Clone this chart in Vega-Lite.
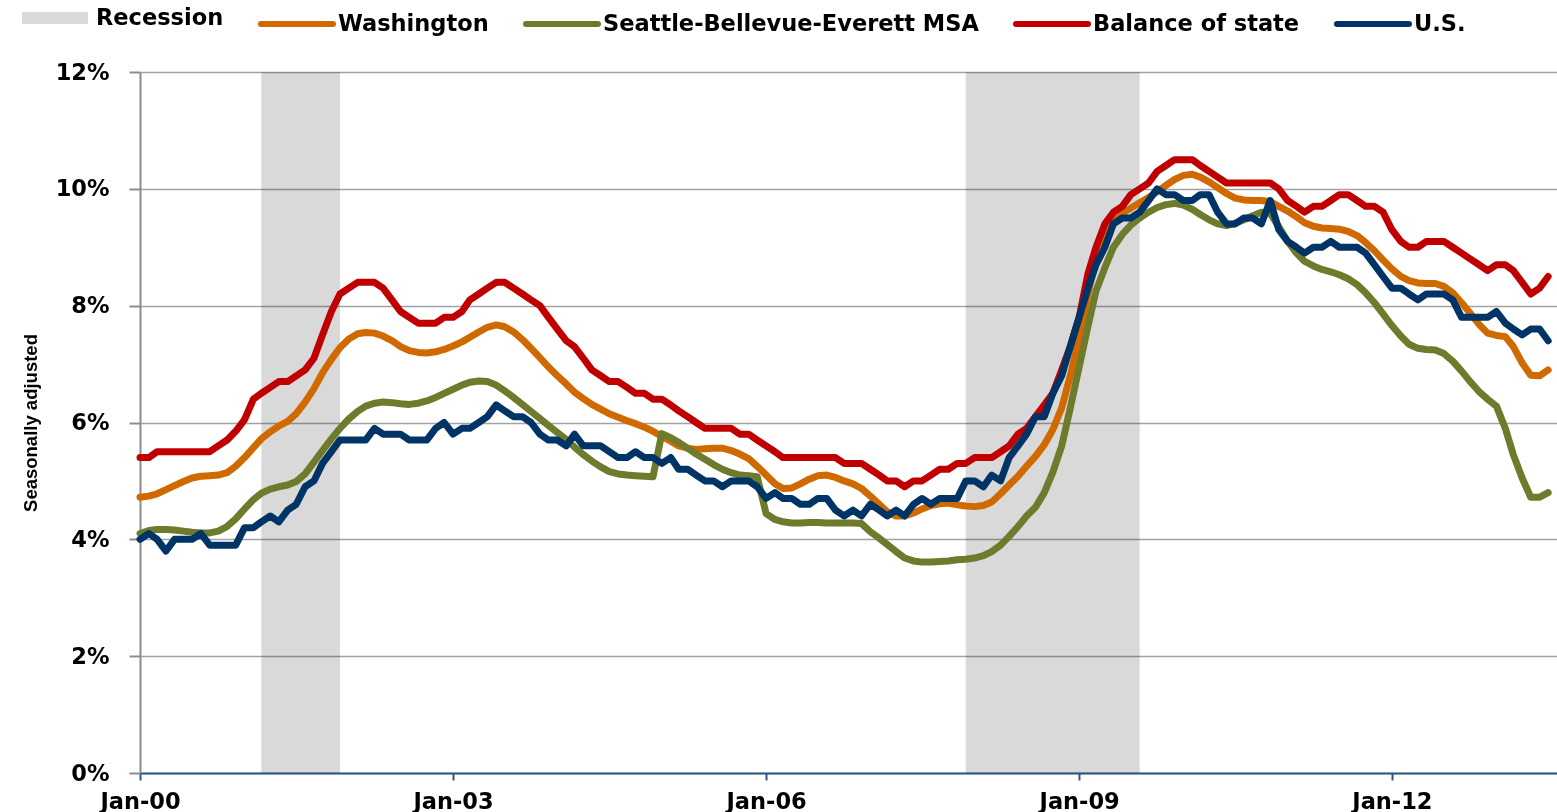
{
  "$schema": "https://vega.github.io/schema/vega-lite/v6.json",
  "width": 1417,
  "height": 701,
  "autosize": {"type": "none"},
  "padding": {"left": 140, "top": 72, "right": 0, "bottom": 39},
  "background": "white",
  "config": {"view": {"stroke": null}},
  "datasets": {
    "rec": [
      {"start": "2001-03-01", "end": "2001-12-01"},
      {"start": "2007-12-01", "end": "2009-08-01"}
    ],
    "us": [
      {"d":"2000-01","v":4.0},{"d":"2000-02","v":4.1},{"d":"2000-03","v":4.0},{"d":"2000-04","v":3.8},{"d":"2000-05","v":4.0},{"d":"2000-06","v":4.0},{"d":"2000-07","v":4.0},{"d":"2000-08","v":4.1},{"d":"2000-09","v":3.9},{"d":"2000-10","v":3.9},{"d":"2000-11","v":3.9},{"d":"2000-12","v":3.9},
      {"d":"2001-01","v":4.2},{"d":"2001-02","v":4.2},{"d":"2001-03","v":4.3},{"d":"2001-04","v":4.4},{"d":"2001-05","v":4.3},{"d":"2001-06","v":4.5},{"d":"2001-07","v":4.6},{"d":"2001-08","v":4.9},{"d":"2001-09","v":5.0},{"d":"2001-10","v":5.3},{"d":"2001-11","v":5.5},{"d":"2001-12","v":5.7},
      {"d":"2002-01","v":5.7},{"d":"2002-02","v":5.7},{"d":"2002-03","v":5.7},{"d":"2002-04","v":5.9},{"d":"2002-05","v":5.8},{"d":"2002-06","v":5.8},{"d":"2002-07","v":5.8},{"d":"2002-08","v":5.7},{"d":"2002-09","v":5.7},{"d":"2002-10","v":5.7},{"d":"2002-11","v":5.9},{"d":"2002-12","v":6.0},
      {"d":"2003-01","v":5.8},{"d":"2003-02","v":5.9},{"d":"2003-03","v":5.9},{"d":"2003-04","v":6.0},{"d":"2003-05","v":6.1},{"d":"2003-06","v":6.3},{"d":"2003-07","v":6.2},{"d":"2003-08","v":6.1},{"d":"2003-09","v":6.1},{"d":"2003-10","v":6.0},{"d":"2003-11","v":5.8},{"d":"2003-12","v":5.7},
      {"d":"2004-01","v":5.7},{"d":"2004-02","v":5.6},{"d":"2004-03","v":5.8},{"d":"2004-04","v":5.6},{"d":"2004-05","v":5.6},{"d":"2004-06","v":5.6},{"d":"2004-07","v":5.5},{"d":"2004-08","v":5.4},{"d":"2004-09","v":5.4},{"d":"2004-10","v":5.5},{"d":"2004-11","v":5.4},{"d":"2004-12","v":5.4},
      {"d":"2005-01","v":5.3},{"d":"2005-02","v":5.4},{"d":"2005-03","v":5.2},{"d":"2005-04","v":5.2},{"d":"2005-05","v":5.1},{"d":"2005-06","v":5.0},{"d":"2005-07","v":5.0},{"d":"2005-08","v":4.9},{"d":"2005-09","v":5.0},{"d":"2005-10","v":5.0},{"d":"2005-11","v":5.0},{"d":"2005-12","v":4.9},
      {"d":"2006-01","v":4.7},{"d":"2006-02","v":4.8},{"d":"2006-03","v":4.7},{"d":"2006-04","v":4.7},{"d":"2006-05","v":4.6},{"d":"2006-06","v":4.6},{"d":"2006-07","v":4.7},{"d":"2006-08","v":4.7},{"d":"2006-09","v":4.5},{"d":"2006-10","v":4.4},{"d":"2006-11","v":4.5},{"d":"2006-12","v":4.4},
      {"d":"2007-01","v":4.6},{"d":"2007-02","v":4.5},{"d":"2007-03","v":4.4},{"d":"2007-04","v":4.5},{"d":"2007-05","v":4.4},{"d":"2007-06","v":4.6},{"d":"2007-07","v":4.7},{"d":"2007-08","v":4.6},{"d":"2007-09","v":4.7},{"d":"2007-10","v":4.7},{"d":"2007-11","v":4.7},{"d":"2007-12","v":5.0},
      {"d":"2008-01","v":5.0},{"d":"2008-02","v":4.9},{"d":"2008-03","v":5.1},{"d":"2008-04","v":5.0},{"d":"2008-05","v":5.4},{"d":"2008-06","v":5.6},{"d":"2008-07","v":5.8},{"d":"2008-08","v":6.1},{"d":"2008-09","v":6.1},{"d":"2008-10","v":6.5},{"d":"2008-11","v":6.8},{"d":"2008-12","v":7.3},
      {"d":"2009-01","v":7.8},{"d":"2009-02","v":8.3},{"d":"2009-03","v":8.7},{"d":"2009-04","v":9.0},{"d":"2009-05","v":9.4},{"d":"2009-06","v":9.5},{"d":"2009-07","v":9.5},{"d":"2009-08","v":9.6},{"d":"2009-09","v":9.8},{"d":"2009-10","v":10.0},{"d":"2009-11","v":9.9},{"d":"2009-12","v":9.9},
      {"d":"2010-01","v":9.8},{"d":"2010-02","v":9.8},{"d":"2010-03","v":9.9},{"d":"2010-04","v":9.9},{"d":"2010-05","v":9.6},{"d":"2010-06","v":9.4},{"d":"2010-07","v":9.4},{"d":"2010-08","v":9.5},{"d":"2010-09","v":9.5},{"d":"2010-10","v":9.4},{"d":"2010-11","v":9.8},{"d":"2010-12","v":9.3},
      {"d":"2011-01","v":9.1},{"d":"2011-02","v":9.0},{"d":"2011-03","v":8.9},{"d":"2011-04","v":9.0},{"d":"2011-05","v":9.0},{"d":"2011-06","v":9.1},{"d":"2011-07","v":9.0},{"d":"2011-08","v":9.0},{"d":"2011-09","v":9.0},{"d":"2011-10","v":8.9},{"d":"2011-11","v":8.7},{"d":"2011-12","v":8.5},
      {"d":"2012-01","v":8.3},{"d":"2012-02","v":8.3},{"d":"2012-03","v":8.2},{"d":"2012-04","v":8.1},{"d":"2012-05","v":8.2},{"d":"2012-06","v":8.2},{"d":"2012-07","v":8.2},{"d":"2012-08","v":8.1},{"d":"2012-09","v":7.8},{"d":"2012-10","v":7.8},{"d":"2012-11","v":7.8},{"d":"2012-12","v":7.8},
      {"d":"2013-01","v":7.9},{"d":"2013-02","v":7.7},{"d":"2013-03","v":7.6},{"d":"2013-04","v":7.5},{"d":"2013-05","v":7.6},{"d":"2013-06","v":7.6},{"d":"2013-07","v":7.4}
    ],
    "wa": [
      {"d":"2000-01","v":4.72},{"d":"2000-02","v":4.74},{"d":"2000-03","v":4.78},{"d":"2000-04","v":4.85},{"d":"2000-05","v":4.92},{"d":"2000-06","v":4.99},{"d":"2000-07","v":5.05},{"d":"2000-08","v":5.08},{"d":"2000-09","v":5.09},{"d":"2000-10","v":5.10},{"d":"2000-11","v":5.14},{"d":"2000-12","v":5.25},
      {"d":"2001-01","v":5.40},{"d":"2001-02","v":5.57},{"d":"2001-03","v":5.72},{"d":"2001-04","v":5.84},{"d":"2001-05","v":5.94},{"d":"2001-06","v":6.02},{"d":"2001-07","v":6.15},{"d":"2001-08","v":6.35},{"d":"2001-09","v":6.58},{"d":"2001-10","v":6.85},{"d":"2001-11","v":7.08},{"d":"2001-12","v":7.28},
      {"d":"2002-01","v":7.43},{"d":"2002-02","v":7.52},{"d":"2002-03","v":7.54},{"d":"2002-04","v":7.53},{"d":"2002-05","v":7.48},{"d":"2002-06","v":7.40},{"d":"2002-07","v":7.30},{"d":"2002-08","v":7.23},{"d":"2002-09","v":7.20},{"d":"2002-10","v":7.19},{"d":"2002-11","v":7.21},{"d":"2002-12","v":7.25},
      {"d":"2003-01","v":7.31},{"d":"2003-02","v":7.38},{"d":"2003-03","v":7.46},{"d":"2003-04","v":7.55},{"d":"2003-05","v":7.63},{"d":"2003-06","v":7.67},{"d":"2003-07","v":7.64},{"d":"2003-08","v":7.55},{"d":"2003-09","v":7.42},{"d":"2003-10","v":7.27},{"d":"2003-11","v":7.11},{"d":"2003-12","v":6.95},
      {"d":"2004-01","v":6.80},{"d":"2004-02","v":6.66},{"d":"2004-03","v":6.52},{"d":"2004-04","v":6.41},{"d":"2004-05","v":6.31},{"d":"2004-06","v":6.23},{"d":"2004-07","v":6.15},{"d":"2004-08","v":6.09},{"d":"2004-09","v":6.03},{"d":"2004-10","v":5.98},{"d":"2004-11","v":5.92},{"d":"2004-12","v":5.85},
      {"d":"2005-01","v":5.76},{"d":"2005-02","v":5.68},{"d":"2005-03","v":5.60},{"d":"2005-04","v":5.56},{"d":"2005-05","v":5.54},{"d":"2005-06","v":5.55},{"d":"2005-07","v":5.56},{"d":"2005-08","v":5.56},{"d":"2005-09","v":5.52},{"d":"2005-10","v":5.46},{"d":"2005-11","v":5.38},{"d":"2005-12","v":5.25},
      {"d":"2006-01","v":5.10},{"d":"2006-02","v":4.95},{"d":"2006-03","v":4.87},{"d":"2006-04","v":4.88},{"d":"2006-05","v":4.95},{"d":"2006-06","v":5.03},{"d":"2006-07","v":5.09},{"d":"2006-08","v":5.10},{"d":"2006-09","v":5.06},{"d":"2006-10","v":5.00},{"d":"2006-11","v":4.95},{"d":"2006-12","v":4.87},
      {"d":"2007-01","v":4.74},{"d":"2007-02","v":4.60},{"d":"2007-03","v":4.47},{"d":"2007-04","v":4.40},{"d":"2007-05","v":4.40},{"d":"2007-06","v":4.45},{"d":"2007-07","v":4.52},{"d":"2007-08","v":4.58},{"d":"2007-09","v":4.61},{"d":"2007-10","v":4.62},{"d":"2007-11","v":4.59},{"d":"2007-12","v":4.57},
      {"d":"2008-01","v":4.56},{"d":"2008-02","v":4.58},{"d":"2008-03","v":4.64},{"d":"2008-04","v":4.78},{"d":"2008-05","v":4.93},{"d":"2008-06","v":5.08},{"d":"2008-07","v":5.25},{"d":"2008-08","v":5.42},{"d":"2008-09","v":5.62},{"d":"2008-10","v":5.88},{"d":"2008-11","v":6.25},{"d":"2008-12","v":6.80},
      {"d":"2009-01","v":7.45},{"d":"2009-02","v":8.20},{"d":"2009-03","v":8.80},{"d":"2009-04","v":9.22},{"d":"2009-05","v":9.45},{"d":"2009-06","v":9.58},{"d":"2009-07","v":9.67},{"d":"2009-08","v":9.76},{"d":"2009-09","v":9.85},{"d":"2009-10","v":9.95},{"d":"2009-11","v":10.06},{"d":"2009-12","v":10.16},
      {"d":"2010-01","v":10.23},{"d":"2010-02","v":10.25},{"d":"2010-03","v":10.20},{"d":"2010-04","v":10.12},{"d":"2010-05","v":10.02},{"d":"2010-06","v":9.92},{"d":"2010-07","v":9.84},{"d":"2010-08","v":9.81},{"d":"2010-09","v":9.80},{"d":"2010-10","v":9.80},{"d":"2010-11","v":9.78},{"d":"2010-12","v":9.70},
      {"d":"2011-01","v":9.62},{"d":"2011-02","v":9.52},{"d":"2011-03","v":9.42},{"d":"2011-04","v":9.36},{"d":"2011-05","v":9.33},{"d":"2011-06","v":9.32},{"d":"2011-07","v":9.31},{"d":"2011-08","v":9.27},{"d":"2011-09","v":9.20},{"d":"2011-10","v":9.08},{"d":"2011-11","v":8.94},{"d":"2011-12","v":8.78},
      {"d":"2012-01","v":8.63},{"d":"2012-02","v":8.50},{"d":"2012-03","v":8.43},{"d":"2012-04","v":8.39},{"d":"2012-05","v":8.38},{"d":"2012-06","v":8.38},{"d":"2012-07","v":8.33},{"d":"2012-08","v":8.22},{"d":"2012-09","v":8.05},{"d":"2012-10","v":7.87},{"d":"2012-11","v":7.68},{"d":"2012-12","v":7.53},
      {"d":"2013-01","v":7.49},{"d":"2013-02","v":7.47},{"d":"2013-03","v":7.30},{"d":"2013-04","v":7.02},{"d":"2013-05","v":6.81},{"d":"2013-06","v":6.80},{"d":"2013-07","v":6.90}
    ],
    "sea": [
      {"d":"2000-01","v":4.10},{"d":"2000-02","v":4.15},{"d":"2000-03","v":4.17},{"d":"2000-04","v":4.17},{"d":"2000-05","v":4.16},{"d":"2000-06","v":4.14},{"d":"2000-07","v":4.12},{"d":"2000-08","v":4.11},{"d":"2000-09","v":4.11},{"d":"2000-10","v":4.14},{"d":"2000-11","v":4.22},{"d":"2000-12","v":4.35},
      {"d":"2001-01","v":4.52},{"d":"2001-02","v":4.68},{"d":"2001-03","v":4.79},{"d":"2001-04","v":4.86},{"d":"2001-05","v":4.90},{"d":"2001-06","v":4.93},{"d":"2001-07","v":4.99},{"d":"2001-08","v":5.12},{"d":"2001-09","v":5.32},{"d":"2001-10","v":5.52},{"d":"2001-11","v":5.72},{"d":"2001-12","v":5.90},
      {"d":"2002-01","v":6.06},{"d":"2002-02","v":6.19},{"d":"2002-03","v":6.28},{"d":"2002-04","v":6.33},{"d":"2002-05","v":6.35},{"d":"2002-06","v":6.34},{"d":"2002-07","v":6.32},{"d":"2002-08","v":6.31},{"d":"2002-09","v":6.33},{"d":"2002-10","v":6.37},{"d":"2002-11","v":6.43},{"d":"2002-12","v":6.50},
      {"d":"2003-01","v":6.57},{"d":"2003-02","v":6.64},{"d":"2003-03","v":6.69},{"d":"2003-04","v":6.71},{"d":"2003-05","v":6.70},{"d":"2003-06","v":6.64},{"d":"2003-07","v":6.54},{"d":"2003-08","v":6.43},{"d":"2003-09","v":6.31},{"d":"2003-10","v":6.19},{"d":"2003-11","v":6.07},{"d":"2003-12","v":5.95},
      {"d":"2004-01","v":5.83},{"d":"2004-02","v":5.71},{"d":"2004-03","v":5.58},{"d":"2004-04","v":5.45},{"d":"2004-05","v":5.34},{"d":"2004-06","v":5.24},{"d":"2004-07","v":5.16},{"d":"2004-08","v":5.12},{"d":"2004-09","v":5.10},{"d":"2004-10","v":5.09},{"d":"2004-11","v":5.08},{"d":"2004-12","v":5.07},
      {"d":"2005-01","v":5.81},{"d":"2005-02","v":5.74},{"d":"2005-03","v":5.66},{"d":"2005-04","v":5.56},{"d":"2005-05","v":5.46},{"d":"2005-06","v":5.37},{"d":"2005-07","v":5.28},{"d":"2005-08","v":5.20},{"d":"2005-09","v":5.14},{"d":"2005-10","v":5.10},{"d":"2005-11","v":5.09},{"d":"2005-12","v":5.07},
      {"d":"2006-01","v":4.44},{"d":"2006-02","v":4.34},{"d":"2006-03","v":4.30},{"d":"2006-04","v":4.28},{"d":"2006-05","v":4.28},{"d":"2006-06","v":4.29},{"d":"2006-07","v":4.29},{"d":"2006-08","v":4.28},{"d":"2006-09","v":4.28},{"d":"2006-10","v":4.28},{"d":"2006-11","v":4.28},{"d":"2006-12","v":4.27},
      {"d":"2007-01","v":4.13},{"d":"2007-02","v":4.02},{"d":"2007-03","v":3.91},{"d":"2007-04","v":3.79},{"d":"2007-05","v":3.68},{"d":"2007-06","v":3.63},{"d":"2007-07","v":3.61},{"d":"2007-08","v":3.61},{"d":"2007-09","v":3.62},{"d":"2007-10","v":3.63},{"d":"2007-11","v":3.65},{"d":"2007-12","v":3.66},
      {"d":"2008-01","v":3.68},{"d":"2008-02","v":3.72},{"d":"2008-03","v":3.79},{"d":"2008-04","v":3.90},{"d":"2008-05","v":4.05},{"d":"2008-06","v":4.22},{"d":"2008-07","v":4.40},{"d":"2008-08","v":4.55},{"d":"2008-09","v":4.80},{"d":"2008-10","v":5.15},{"d":"2008-11","v":5.60},{"d":"2008-12","v":6.25},
      {"d":"2009-01","v":6.95},{"d":"2009-02","v":7.65},{"d":"2009-03","v":8.25},{"d":"2009-04","v":8.65},{"d":"2009-05","v":9.00},{"d":"2009-06","v":9.22},{"d":"2009-07","v":9.38},{"d":"2009-08","v":9.50},{"d":"2009-09","v":9.60},{"d":"2009-10","v":9.68},{"d":"2009-11","v":9.73},{"d":"2009-12","v":9.75},
      {"d":"2010-01","v":9.72},{"d":"2010-02","v":9.65},{"d":"2010-03","v":9.56},{"d":"2010-04","v":9.47},{"d":"2010-05","v":9.40},{"d":"2010-06","v":9.37},{"d":"2010-07","v":9.41},{"d":"2010-08","v":9.47},{"d":"2010-09","v":9.54},{"d":"2010-10","v":9.60},{"d":"2010-11","v":9.58},{"d":"2010-12","v":9.35},
      {"d":"2011-01","v":9.10},{"d":"2011-02","v":8.90},{"d":"2011-03","v":8.76},{"d":"2011-04","v":8.68},{"d":"2011-05","v":8.62},{"d":"2011-06","v":8.58},{"d":"2011-07","v":8.53},{"d":"2011-08","v":8.46},{"d":"2011-09","v":8.36},{"d":"2011-10","v":8.22},{"d":"2011-11","v":8.05},{"d":"2011-12","v":7.86},
      {"d":"2012-01","v":7.66},{"d":"2012-02","v":7.48},{"d":"2012-03","v":7.34},{"d":"2012-04","v":7.27},{"d":"2012-05","v":7.25},{"d":"2012-06","v":7.24},{"d":"2012-07","v":7.18},{"d":"2012-08","v":7.05},{"d":"2012-09","v":6.88},{"d":"2012-10","v":6.70},{"d":"2012-11","v":6.53},{"d":"2012-12","v":6.40},
      {"d":"2013-01","v":6.28},{"d":"2013-02","v":5.90},{"d":"2013-03","v":5.45},{"d":"2013-04","v":5.05},{"d":"2013-05","v":4.72},{"d":"2013-06","v":4.72},{"d":"2013-07","v":4.80}
    ],
    "bal": [
      {"d":"2000-01","v":5.4},{"d":"2000-02","v":5.4},{"d":"2000-03","v":5.5},{"d":"2000-04","v":5.5},{"d":"2000-05","v":5.5},{"d":"2000-06","v":5.5},{"d":"2000-07","v":5.5},{"d":"2000-08","v":5.5},{"d":"2000-09","v":5.5},{"d":"2000-10","v":5.6},{"d":"2000-11","v":5.7},{"d":"2000-12","v":5.85},
      {"d":"2001-01","v":6.05},{"d":"2001-02","v":6.4},{"d":"2001-03","v":6.5},{"d":"2001-04","v":6.6},{"d":"2001-05","v":6.7},{"d":"2001-06","v":6.7},{"d":"2001-07","v":6.8},{"d":"2001-08","v":6.9},{"d":"2001-09","v":7.1},{"d":"2001-10","v":7.5},{"d":"2001-11","v":7.9},{"d":"2001-12","v":8.2},
      {"d":"2002-01","v":8.3},{"d":"2002-02","v":8.4},{"d":"2002-03","v":8.4},{"d":"2002-04","v":8.4},{"d":"2002-05","v":8.3},{"d":"2002-06","v":8.1},{"d":"2002-07","v":7.9},{"d":"2002-08","v":7.8},{"d":"2002-09","v":7.7},{"d":"2002-10","v":7.7},{"d":"2002-11","v":7.7},{"d":"2002-12","v":7.8},
      {"d":"2003-01","v":7.8},{"d":"2003-02","v":7.9},{"d":"2003-03","v":8.1},{"d":"2003-04","v":8.2},{"d":"2003-05","v":8.3},{"d":"2003-06","v":8.4},{"d":"2003-07","v":8.4},{"d":"2003-08","v":8.3},{"d":"2003-09","v":8.2},{"d":"2003-10","v":8.1},{"d":"2003-11","v":8.0},{"d":"2003-12","v":7.8},
      {"d":"2004-01","v":7.6},{"d":"2004-02","v":7.4},{"d":"2004-03","v":7.3},{"d":"2004-04","v":7.1},{"d":"2004-05","v":6.9},{"d":"2004-06","v":6.8},{"d":"2004-07","v":6.7},{"d":"2004-08","v":6.7},{"d":"2004-09","v":6.6},{"d":"2004-10","v":6.5},{"d":"2004-11","v":6.5},{"d":"2004-12","v":6.4},
      {"d":"2005-01","v":6.4},{"d":"2005-02","v":6.3},{"d":"2005-03","v":6.2},{"d":"2005-04","v":6.1},{"d":"2005-05","v":6.0},{"d":"2005-06","v":5.9},{"d":"2005-07","v":5.9},{"d":"2005-08","v":5.9},{"d":"2005-09","v":5.9},{"d":"2005-10","v":5.8},{"d":"2005-11","v":5.8},{"d":"2005-12","v":5.7},
      {"d":"2006-01","v":5.6},{"d":"2006-02","v":5.5},{"d":"2006-03","v":5.4},{"d":"2006-04","v":5.4},{"d":"2006-05","v":5.4},{"d":"2006-06","v":5.4},{"d":"2006-07","v":5.4},{"d":"2006-08","v":5.4},{"d":"2006-09","v":5.4},{"d":"2006-10","v":5.3},{"d":"2006-11","v":5.3},{"d":"2006-12","v":5.3},
      {"d":"2007-01","v":5.2},{"d":"2007-02","v":5.1},{"d":"2007-03","v":5.0},{"d":"2007-04","v":5.0},{"d":"2007-05","v":4.9},{"d":"2007-06","v":5.0},{"d":"2007-07","v":5.0},{"d":"2007-08","v":5.1},{"d":"2007-09","v":5.2},{"d":"2007-10","v":5.2},{"d":"2007-11","v":5.3},{"d":"2007-12","v":5.3},
      {"d":"2008-01","v":5.4},{"d":"2008-02","v":5.4},{"d":"2008-03","v":5.4},{"d":"2008-04","v":5.5},{"d":"2008-05","v":5.6},{"d":"2008-06","v":5.8},{"d":"2008-07","v":5.9},{"d":"2008-08","v":6.1},{"d":"2008-09","v":6.3},{"d":"2008-10","v":6.5},{"d":"2008-11","v":6.9},{"d":"2008-12","v":7.3},
      {"d":"2009-01","v":7.8},{"d":"2009-02","v":8.55},{"d":"2009-03","v":9.0},{"d":"2009-04","v":9.4},{"d":"2009-05","v":9.6},{"d":"2009-06","v":9.7},{"d":"2009-07","v":9.9},{"d":"2009-08","v":10.0},{"d":"2009-09","v":10.1},{"d":"2009-10","v":10.3},{"d":"2009-11","v":10.4},{"d":"2009-12","v":10.5},
      {"d":"2010-01","v":10.5},{"d":"2010-02","v":10.5},{"d":"2010-03","v":10.4},{"d":"2010-04","v":10.3},{"d":"2010-05","v":10.2},{"d":"2010-06","v":10.1},{"d":"2010-07","v":10.1},{"d":"2010-08","v":10.1},{"d":"2010-09","v":10.1},{"d":"2010-10","v":10.1},{"d":"2010-11","v":10.1},{"d":"2010-12","v":10.0},
      {"d":"2011-01","v":9.8},{"d":"2011-02","v":9.7},{"d":"2011-03","v":9.6},{"d":"2011-04","v":9.7},{"d":"2011-05","v":9.7},{"d":"2011-06","v":9.8},{"d":"2011-07","v":9.9},{"d":"2011-08","v":9.9},{"d":"2011-09","v":9.8},{"d":"2011-10","v":9.7},{"d":"2011-11","v":9.7},{"d":"2011-12","v":9.6},
      {"d":"2012-01","v":9.3},{"d":"2012-02","v":9.1},{"d":"2012-03","v":9.0},{"d":"2012-04","v":9.0},{"d":"2012-05","v":9.1},{"d":"2012-06","v":9.1},{"d":"2012-07","v":9.1},{"d":"2012-08","v":9.0},{"d":"2012-09","v":8.9},{"d":"2012-10","v":8.8},{"d":"2012-11","v":8.7},{"d":"2012-12","v":8.6},
      {"d":"2013-01","v":8.7},{"d":"2013-02","v":8.7},{"d":"2013-03","v":8.6},{"d":"2013-04","v":8.4},{"d":"2013-05","v":8.2},{"d":"2013-06","v":8.3},{"d":"2013-07","v":8.5}
    ]
  },
  "layer": [
    {
      "data": {"name": "rec", "format": {"parse": {"start": "date", "end": "date"}}},
      "mark": {"type": "rect", "blend": "multiply"},
      "encoding": {
        "x": {
          "field": "start",
          "type": "temporal",
          "title": null,
          "scale": {
            "type": "utc",
            "domain": [
              {"year": 2000, "month": 1, "date": 1, "utc": true},
              {"year": 2013, "month": 8, "date": 1, "utc": true}
            ]
          },
          "axis": {
            "values": [
              {"year": 2000, "month": 1, "date": 1, "utc": true},
              {"year": 2003, "month": 1, "date": 1, "utc": true},
              {"year": 2006, "month": 1, "date": 1, "utc": true},
              {"year": 2009, "month": 1, "date": 1, "utc": true},
              {"year": 2012, "month": 1, "date": 1, "utc": true}
            ],
            "labelExpr": "utcFormat(datum.value, '%b-%y')",
            "grid": false,
            "domainColor": "#2b5788",
            "domainWidth": 2,
            "tickColor": "#2b5788",
            "tickWidth": 2,
            "tickSize": 7,
            "labelFont": "DejaVu Sans",
            "labelFontSize": 22.5,
            "labelFontWeight": "bold",
            "labelColor": "#000000",
            "labelPadding": 10,
            "labelFlush": false,
            "labelOverlap": false
          }
        },
        "x2": {"field": "end"},
        "y": {
          "datum": 0,
          "type": "quantitative",
          "scale": {"domain": [0, 12], "nice": false, "zero": true},
          "axis": {
            "values": [0, 2, 4, 6, 8, 10, 12],
            "labelExpr": "datum.value + '%'",
            "title": "Seasonally adjusted",
            "titleFont": "Liberation Sans",
            "titleFontSize": 18.5,
            "titleFontWeight": "bold",
            "titleColor": "#000000",
            "titleAngle": 270,
            "titleAlign": "center",
            "titleBaseline": "alphabetic",
            "titleX": -104,
            "titleY": 350.5,
            "grid": true,
            "gridColor": "#a3a3a3",
            "gridWidth": 1.5,
            "domainColor": "#8c8c8c",
            "domainWidth": 2,
            "tickColor": "#8c8c8c",
            "tickWidth": 2,
            "tickSize": 11,
            "labelFont": "DejaVu Sans",
            "labelFontSize": 22.5,
            "labelFontWeight": "bold",
            "labelColor": "#000000",
            "labelPadding": 20,
            "labelBaseline": "middle"
          }
        },
        "y2": {"datum": 12},
        "color": {
          "datum": "Recession",
          "type": "nominal",
          "scale": {
            "domain": ["Recession", "Washington", "Seattle-Bellevue-Everett MSA", "Balance of state", "U.S."],
            "range": ["#d9d9d9", "#d06a00", "#6e7b2c", "#c00000", "#003366"]
          },
          "legend": {
            "title": null,
            "orient": "none",
            "legendX": -124,
            "legendY": -93,
            "direction": "horizontal",
            "symbolType": "stroke",
            "symbolSize": 5184,
            "symbolStrokeWidth": 6,
            "labelFont": "DejaVu Sans",
            "labelFontSize": 22.5,
            "labelFontWeight": "bold",
            "labelColor": "#000000",
            "labelOffset": 2,
            "labelLimit": 600,
            "columnPadding": 25,
            "padding": 0,
            "encode": {
              "symbols": {
                "update": {
                  "stroke": {"scale": "color", "field": "value"},
                  "fill": {"value": "transparent"},
                  "opacity": {"value": 1},
                  "size": {"signal": "(datum.value === 'Recession' ? 4356 : 5184)"},
                  "strokeWidth": {"signal": "(datum.value === 'Recession' ? 12 : 6)"},
                  "strokeCap": {"signal": "(datum.value === 'Recession' ? 'butt' : 'round')"}
                }
              }
            }
          }
        }
      }
    },
    {
      "data": {"name": "wa"},
      "mark": {"type": "line", "strokeWidth": 7, "strokeJoin": "round", "strokeCap": "round"},
      "encoding": {
        "x": {"field": "d", "type": "temporal"},
        "y": {"field": "v", "type": "quantitative"},
        "color": {"datum": "Washington", "type": "nominal"}
      }
    },
    {
      "data": {"name": "sea"},
      "mark": {"type": "line", "strokeWidth": 7, "strokeJoin": "round", "strokeCap": "round"},
      "encoding": {
        "x": {"field": "d", "type": "temporal"},
        "y": {"field": "v", "type": "quantitative"},
        "color": {"datum": "Seattle-Bellevue-Everett MSA", "type": "nominal"}
      }
    },
    {
      "data": {"name": "bal"},
      "mark": {"type": "line", "strokeWidth": 7, "strokeJoin": "round", "strokeCap": "round"},
      "encoding": {
        "x": {"field": "d", "type": "temporal"},
        "y": {"field": "v", "type": "quantitative"},
        "color": {"datum": "Balance of state", "type": "nominal"}
      }
    },
    {
      "data": {"name": "us"},
      "mark": {"type": "line", "strokeWidth": 7, "strokeJoin": "round", "strokeCap": "round"},
      "encoding": {
        "x": {"field": "d", "type": "temporal"},
        "y": {"field": "v", "type": "quantitative"},
        "color": {"datum": "U.S.", "type": "nominal"}
      }
    }
  ]
}
